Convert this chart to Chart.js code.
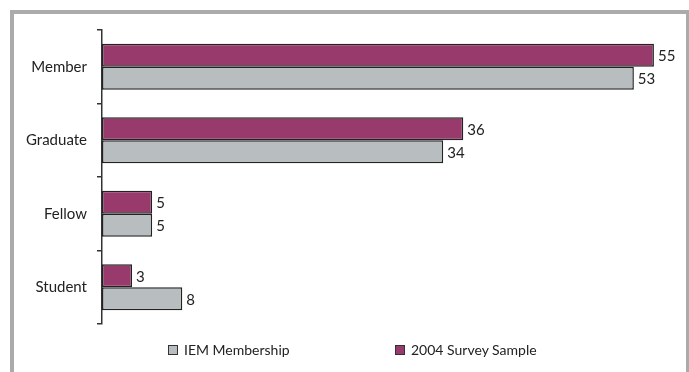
<!DOCTYPE html>
<html>
<head>
<meta charset="utf-8">
<script src="https://cdn.jsdelivr.net/npm/chart.js@4"></script>
<style>
  html, body { margin: 0; padding: 0; background: #fff; overflow: hidden; }
  #wrap { position: relative; width: 689px; height: 372px; }
  #frame {
    position: absolute; left: 10px; top: 10px; width: 672px; height: 400px;
    border: 4px solid #ababab; box-sizing: content-box;
  }
  #chart { position: absolute; left: 0; top: 0; }
  #legend {
    position: absolute; left: 0; top: 341px; width: 689px;
    font-family: Lato, sans-serif; font-size: 14px; color: #222;
  }
  #legend span.item { position: absolute; top: 0; white-space: nowrap; }
  #legend span.box {
    display: inline-block; width: 8px; height: 8px; border: 1.5px solid #333;
    margin-right: 6px; vertical-align: 0px;
  }
</style>
</head>
<body>
<div id="wrap">
  <div id="frame"></div>
  <canvas id="chart" width="689" height="372"></canvas>
  <div id="legend"></div>
</div>
<script>
const categories = ['Member', 'Graduate', 'Fellow', 'Student'];
const surveySample = [55, 36, 5, 3];
const iemMembership = [53, 34, 5, 8];
const legendOrder = ['IEM Membership', '2004 Survey Sample'];

const PURPLE = '#983a6c';
const GREY = '#b8bdbf';
const INK = '#222';

// value text just past the end of each bar
const barValues = {
  id: 'barValues',
  afterDatasetsDraw(chart) {
    const ctx = chart.ctx;
    ctx.save();
    ctx.font = '15px Lato, sans-serif';
    ctx.fillStyle = INK;
    ctx.textAlign = 'left';
    ctx.textBaseline = 'middle';
    chart.data.datasets.forEach((ds, i) => {
      chart.getDatasetMeta(i).data.forEach((bar, j) => {
        ctx.fillText(String(ds.data[j]), bar.x + 4, bar.y + 1);
      });
    });
    ctx.restore();
  }
};

const chart = new Chart(document.getElementById('chart'), {
  type: 'bar',
  data: {
    labels: categories,
    datasets: [
      {
        label: '2004 Survey Sample',
        data: surveySample,
        backgroundColor: PURPLE,
        borderColor: INK,
        borderWidth: 1.5,
        borderSkipped: false
      },
      {
        label: 'IEM Membership',
        data: iemMembership,
        backgroundColor: GREY,
        borderColor: INK,
        borderWidth: 1.5,
        borderSkipped: false
      }
    ]
  },
  options: {
    indexAxis: 'y',
    responsive: false,
    animation: false,
    events: [],
    datasets: { bar: { categoryPercentage: 0.625, barPercentage: 1.0 } },
    layout: { padding: { top: 30, right: 15, bottom: 48, left: 0 } },
    scales: {
      x: { display: false, min: 0, max: 57 },
      y: {
        afterFit(scale) { scale.width = 102; },
        border: { display: true, color: '#333', width: 1.5 },
        grid: { drawOnChartArea: false, drawTicks: true, tickLength: 5, color: '#333', lineWidth: 1.5 },
        ticks: { color: INK, padding: 10, font: { family: 'Lato, sans-serif', size: 15 } }
      }
    },
    plugins: {
      legend: { display: false },
      tooltip: { enabled: false }
    }
  },
  plugins: [barValues]
});

// legend row under the plot
const legendPos = { 'IEM Membership': 168, '2004 Survey Sample': 395 };
const legendEl = document.getElementById('legend');
legendOrder.forEach(name => {
  const ds = chart.data.datasets.find(d => d.label === name);
  const item = document.createElement('span');
  item.className = 'item';
  item.style.left = legendPos[name] + 'px';
  item.innerHTML = `<span class="box" style="background:${ds.backgroundColor}"></span>${name}`;
  legendEl.appendChild(item);
});
</script>
</body>
</html>
